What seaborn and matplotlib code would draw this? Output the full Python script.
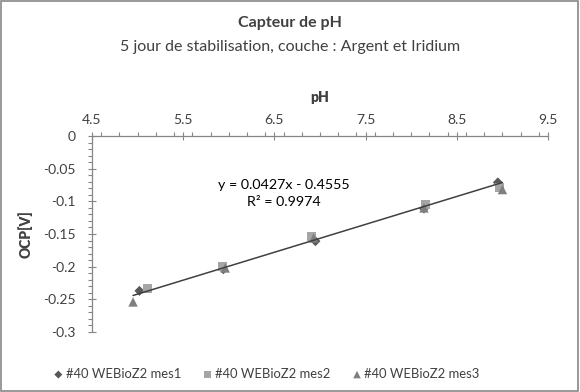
import matplotlib
matplotlib.use("Agg")
import matplotlib.pyplot as plt
import matplotlib.ticker as mticker
import numpy as np
import pandas as pd
import seaborn as sns

ph_mes1 = [5.02, 5.94, 6.95, 8.14, 8.95]
ocp_mes1 = [-0.237, -0.204, -0.161, -0.111, -0.071]
ph_mes2 = [5.11, 5.93, 6.91, 8.16, 8.97]
ocp_mes2 = [-0.234, -0.200, -0.154, -0.105, -0.079]
ph_mes3 = [4.95, 5.96, 6.93, 8.14, 9.00]
ocp_mes3 = [-0.254, -0.202, -0.156, -0.110, -0.082]
series_names = ["#40 WEBioZ2 mes1", "#40 WEBioZ2 mes2", "#40 WEBioZ2 mes3"]

# linear trendline shown on the chart
slope = 0.0427
intercept = -0.4555
r2 = 0.9974

df = pd.DataFrame({
    "pH": ph_mes1 + ph_mes2 + ph_mes3,
    "OCP": ocp_mes1 + ocp_mes2 + ocp_mes3,
    "serie": [series_names[0]] * 5 + [series_names[1]] * 5 + [series_names[2]] * 5,
})

sns.set_style("white")
plt.rcParams["font.family"] = ["Lato", "DejaVu Sans"]
txt = "#404040"
axc = "#868686"

fig = plt.figure(figsize=(5.8, 3.92), dpi=100)
ax = fig.add_axes([92 / 580, 1 - 332 / 392, 456 / 580, 196 / 392])

palette = {series_names[0]: "#595959", series_names[1]: "#a5a5a5", series_names[2]: "#7f7f7f"}
markers = {series_names[0]: "D", series_names[1]: "s", series_names[2]: "^"}
sizes = {series_names[0]: 26, series_names[1]: 40, series_names[2]: 46}
for name in series_names:
    sub = df[df["serie"] == name]
    sns.scatterplot(data=sub, x="pH", y="OCP", color=palette[name], marker=markers[name],
                    s=sizes[name], edgecolor="none", ax=ax, label=name, zorder=3)

xs = np.array([df["pH"].min(), df["pH"].max()])
ax.plot(xs, slope * xs + intercept, color="#404040", lw=1.1, zorder=4)
ax.text(6.6, -0.0875, f"y = {slope}x - {abs(intercept)}\nR² = {r2}", ha="center", va="center",
        fontsize=10.3, color="black", linespacing=1.5)

ax.set_xlim(4.5, 9.5)
ax.set_ylim(-0.3, 0)
ax.xaxis.set_major_locator(mticker.FixedLocator([4.5, 5.5, 6.5, 7.5, 8.5, 9.5]))
ax.xaxis.set_minor_locator(mticker.MultipleLocator(0.2))
ax.yaxis.set_major_locator(mticker.MultipleLocator(0.05))
ax.yaxis.set_minor_locator(mticker.MultipleLocator(0.01))
ax.yaxis.set_major_formatter(mticker.FuncFormatter(lambda v, p: "0" if abs(v) < 1e-9 else f"{v:g}"))
ax.xaxis.tick_top()
ax.xaxis.set_label_position("top")

for s in ["right", "bottom"]:
    ax.spines[s].set_visible(False)
for s in ["left", "top"]:
    ax.spines[s].set_color(axc)
    ax.spines[s].set_linewidth(0.9)

ax.tick_params(axis="both", which="major", direction="inout", length=6, color=axc,
               labelsize=10, labelcolor=txt, width=0.8)
ax.tick_params(axis="both", which="minor", direction="out", length=3, color=axc, width=0.8)
ax.tick_params(axis="x", which="both", top=True, bottom=False, pad=4)
ax.tick_params(axis="y", which="both", left=True, right=False, pad=9)

ax.set_xlabel("pH", fontsize=10, fontweight="heavy", color=txt, labelpad=9)
ax.set_ylabel("OCP[V]", fontsize=10, fontweight="heavy", color=txt, labelpad=7)

fig.text(0.5, 1 - 23 / 392, "Capteur de pH", ha="center", va="center",
         fontsize=11.5, fontweight="bold", color=txt)
fig.text(0.5, 1 - 47 / 392, "5 jour de stabilisation, couche : Argent et Iridium", ha="center",
         va="center", fontsize=11.5, color=txt)

ax.legend(loc="center", bbox_to_anchor=(266 / 580, 1 - 374 / 392), bbox_transform=fig.transFigure,
          ncol=3, frameon=False, fontsize=9.4, handletextpad=0.1, columnspacing=1.6,
          handlelength=0.9, labelcolor=txt, markerscale=0.8)

fig.patches.append(plt.Rectangle((0.002, 0.003), 0.995, 0.994, transform=fig.transFigure,
                                 fill=False, edgecolor="#878787", lw=1.2))

plt.savefig("out.png", dpi=100)
plt.close()
